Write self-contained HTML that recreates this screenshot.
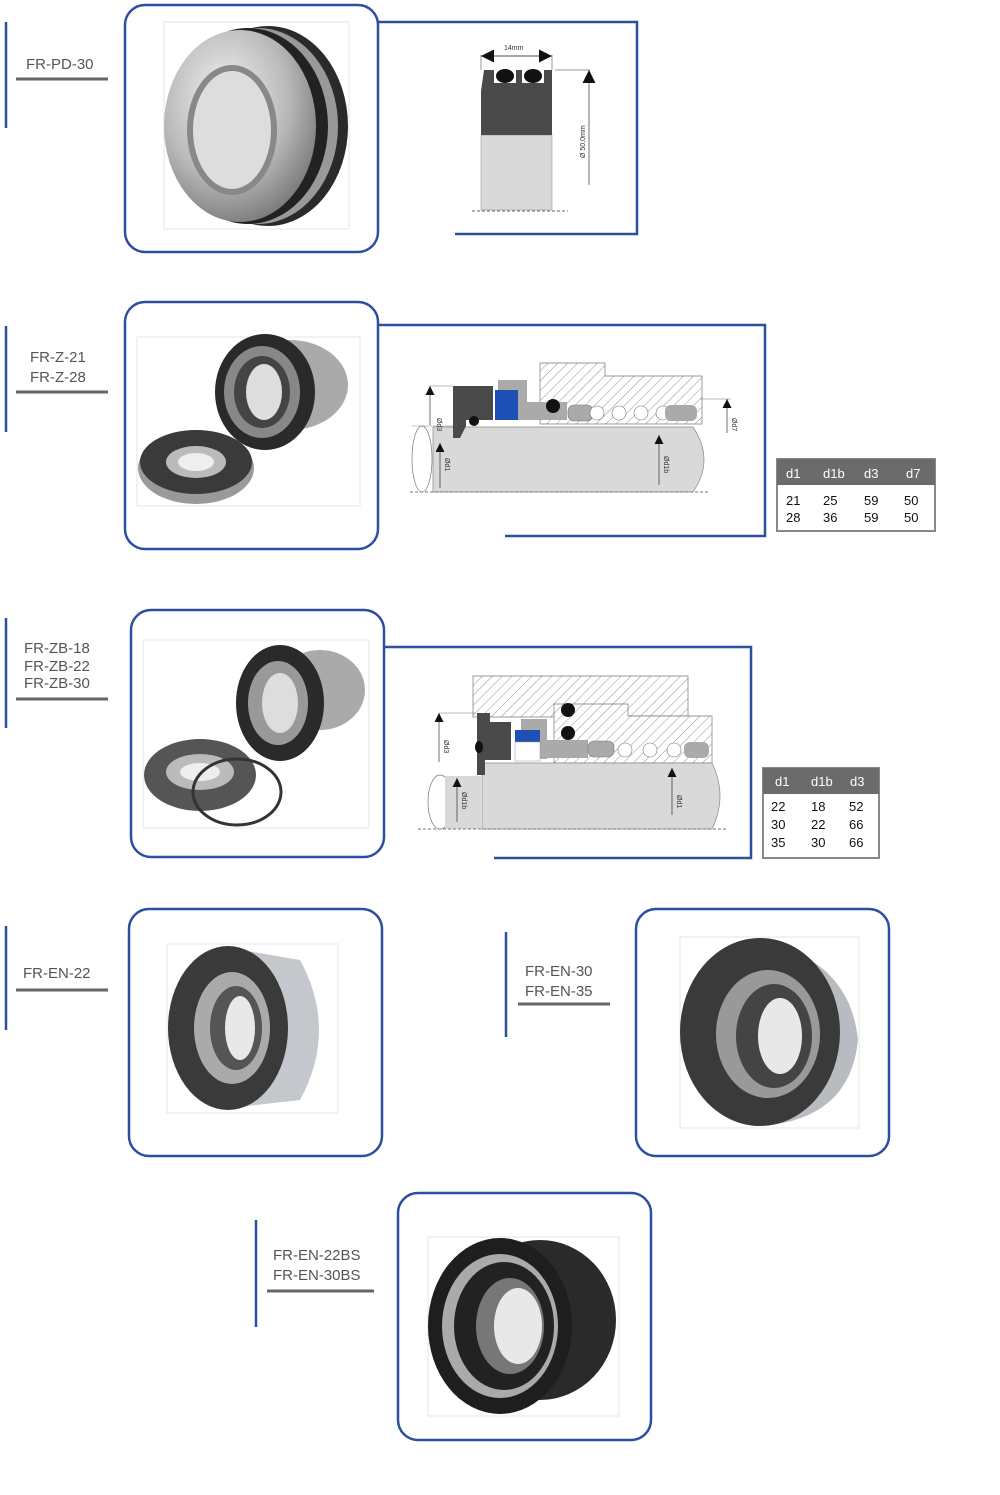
<!DOCTYPE html>
<html><head><meta charset="utf-8"><style>
html,body{margin:0;padding:0;background:#fff;}
svg{display:block;}
.lbl{font-family:"Liberation Sans",sans-serif;font-size:15px;fill:#555;}
.sm{font-family:"Liberation Sans",sans-serif;font-size:7px;fill:#333;}
.th{font-family:"Liberation Sans",sans-serif;font-size:13px;fill:#fff;}
.td{font-family:"Liberation Sans",sans-serif;font-size:13px;fill:#111;}
</style></head><body>
<svg width="1000" height="1495" viewBox="0 0 1000 1495" xmlns="http://www.w3.org/2000/svg">
<defs>
<pattern id="h" width="7" height="7" patternUnits="userSpaceOnUse" patternTransform="rotate(45)">
<rect width="7" height="7" fill="#fff"/><line x1="0" y1="0" x2="0" y2="7" stroke="#777" stroke-width="0.8"/></pattern>
<radialGradient id="met" cx="40%" cy="35%" r="70%"><stop offset="0" stop-color="#f2f2f2"/><stop offset="0.6" stop-color="#b8b8b8"/><stop offset="1" stop-color="#777"/></radialGradient>
<marker id="ar" viewBox="0 0 10 10" refX="10" refY="5" markerWidth="9" markerHeight="9" markerUnits="userSpaceOnUse" orient="auto-start-reverse"><path d="M0,0 L10,5 L0,10z" fill="#111"/></marker>
<marker id="ar2" viewBox="0 0 10 10" refX="10" refY="5" markerWidth="13" markerHeight="13" markerUnits="userSpaceOnUse" orient="auto-start-reverse"><path d="M0,0 L10,5 L0,10z" fill="#111"/></marker>
</defs>
<g fill="none" stroke="#2d4fa0" stroke-width="2.5">
<line x1="6" y1="22" x2="6" y2="128"/><line x1="6" y1="326" x2="6" y2="432"/><line x1="6" y1="618" x2="6" y2="728"/>
<line x1="6" y1="926" x2="6" y2="1030"/><line x1="506" y1="932" x2="506" y2="1037"/><line x1="256" y1="1220" x2="256" y2="1327"/>
<rect x="125" y="5" width="253" height="247" rx="20"/>
<rect x="125" y="302" width="253" height="247" rx="20"/>
<rect x="131" y="610" width="253" height="247" rx="20"/>
<rect x="129" y="909" width="253" height="247" rx="20"/>
<rect x="636" y="909" width="253" height="247" rx="20"/>
<rect x="398" y="1193" width="253" height="247" rx="20"/>
<polyline points="378,22 637,22 637,234 455,234"/>
<polyline points="378,325 765,325 765,536 505,536"/>
<polyline points="384,647 751,647 751,858 494,858"/>
</g>
<g stroke="#666" stroke-width="3">
<line x1="16" y1="79" x2="108" y2="79"/><line x1="16" y1="392" x2="108" y2="392"/><line x1="16" y1="699" x2="108" y2="699"/>
<line x1="16" y1="990" x2="108" y2="990"/><line x1="518" y1="1004" x2="610" y2="1004"/><line x1="267" y1="1291" x2="374" y2="1291"/>
</g>
<text class="lbl" x="26" y="69">FR-PD-30</text>
<text class="lbl" x="30" y="362">FR-Z-21</text><text class="lbl" x="30" y="382">FR-Z-28</text>
<text class="lbl" x="24" y="653">FR-ZB-18</text><text class="lbl" x="24" y="671">FR-ZB-22</text><text class="lbl" x="24" y="688">FR-ZB-30</text>
<text class="lbl" x="23" y="978">FR-EN-22</text>
<text class="lbl" x="525" y="976">FR-EN-30</text><text class="lbl" x="525" y="996">FR-EN-35</text>
<text class="lbl" x="273" y="1260">FR-EN-22BS</text><text class="lbl" x="273" y="1280">FR-EN-30BS</text>

<g stroke="#e4e4e4" fill="#fff"><rect x="164" y="22" width="185" height="207"/><rect x="137" y="337" width="223" height="169"/><rect x="143" y="640" width="226" height="188"/><rect x="167" y="944" width="171" height="169"/><rect x="680" y="937" width="179" height="191"/><rect x="428" y="1237" width="191" height="179"/></g>
<ellipse cx="268" cy="126" rx="80" ry="100" fill="#2a2a2a"/>
<ellipse cx="258" cy="126" rx="80" ry="98" fill="#999"/>
<ellipse cx="248" cy="126" rx="80" ry="98" fill="#222"/>
<ellipse cx="240" cy="126" rx="76" ry="96" fill="url(#met)"/>
<ellipse cx="232" cy="130" rx="42" ry="62" fill="#ddd" stroke="#888" stroke-width="6"/>
<ellipse cx="290" cy="385" rx="58" ry="45" fill="#aaa"/><ellipse cx="265" cy="392" rx="50" ry="58" fill="#2a2a2a"/><ellipse cx="262" cy="392" rx="38" ry="46" fill="#888"/><ellipse cx="262" cy="392" rx="28" ry="36" fill="#444"/><ellipse cx="264" cy="392" rx="18" ry="28" fill="#ddd"/>
<ellipse cx="196" cy="468" rx="58" ry="36" fill="#9a9a9a"/><ellipse cx="196" cy="462" rx="56" ry="32" fill="#3a3a3a"/><ellipse cx="196" cy="462" rx="30" ry="16" fill="#bbb"/><ellipse cx="196" cy="462" rx="18" ry="9" fill="#eee"/>
<ellipse cx="320" cy="690" rx="45" ry="40" fill="#aaa"/><ellipse cx="280" cy="703" rx="44" ry="58" fill="#2a2a2a"/><ellipse cx="278" cy="703" rx="30" ry="42" fill="#999"/><ellipse cx="280" cy="703" rx="18" ry="30" fill="#ddd"/>
<ellipse cx="200" cy="775" rx="56" ry="36" fill="#555"/><ellipse cx="200" cy="772" rx="34" ry="18" fill="#bbb"/><ellipse cx="200" cy="772" rx="20" ry="9" fill="#eee"/>
<ellipse cx="237" cy="792" rx="44" ry="33" fill="none" stroke="#333" stroke-width="3"/>
<path d="M230,948 L300,960 Q338,1030 300,1100 L230,1108z" fill="#c4c8cc"/>
<ellipse cx="228" cy="1028" rx="60" ry="82" fill="#3a3a3a"/><ellipse cx="232" cy="1028" rx="38" ry="56" fill="#aaa"/><ellipse cx="236" cy="1028" rx="26" ry="42" fill="#555"/><ellipse cx="240" cy="1028" rx="15" ry="32" fill="#e8e8e8"/>
<path d="M760,940 Q850,960 858,1040 Q850,1120 760,1126z" fill="#b8bcc0"/>
<ellipse cx="760" cy="1032" rx="80" ry="94" fill="#3a3a3a"/><ellipse cx="768" cy="1034" rx="52" ry="64" fill="#999"/><ellipse cx="774" cy="1036" rx="38" ry="52" fill="#444"/><ellipse cx="780" cy="1036" rx="22" ry="38" fill="#e8e8e8"/>
<ellipse cx="540" cy="1320" rx="76" ry="80" fill="#2a2a2a"/>
<ellipse cx="500" cy="1326" rx="72" ry="88" fill="#1e1e1e"/><ellipse cx="500" cy="1326" rx="58" ry="72" fill="#aaa"/><ellipse cx="504" cy="1326" rx="50" ry="64" fill="#222"/><ellipse cx="510" cy="1326" rx="34" ry="48" fill="#777"/><ellipse cx="518" cy="1326" rx="24" ry="38" fill="#e8e8e8"/>

<!-- diagram 1 -->
<rect x="481" y="135" width="71" height="75" fill="#d9d9d9" stroke="#999" stroke-width="0.6"/>
<path d="M481,91 L484,70 L552,70 L552,135 L481,135z" fill="#4a4a4a"/>
<rect x="494" y="69" width="22" height="14" fill="#fff"/><rect x="522" y="69" width="22" height="14" fill="#fff"/>
<ellipse cx="505" cy="76" rx="9" ry="7" fill="#111"/><ellipse cx="533" cy="76" rx="9" ry="7" fill="#111"/>
<line x1="472" y1="211" x2="568" y2="211" stroke="#666" stroke-dasharray="3,2"/>
<line x1="481" y1="56" x2="552" y2="56" stroke="#111" marker-start="url(#ar2)" marker-end="url(#ar2)" stroke-width="0.8"/>
<line x1="481" y1="55" x2="481" y2="70" stroke="#333" stroke-width="0.5"/><line x1="552" y1="55" x2="552" y2="70" stroke="#333" stroke-width="0.5"/>
<text class="sm" x="504" y="50">14mm</text>
<line x1="555" y1="70" x2="590" y2="70" stroke="#333" stroke-width="0.5"/>
<line x1="589" y1="185" x2="589" y2="70" stroke="#111" stroke-width="0.6" marker-end="url(#ar2)"/>
<text class="sm" transform="translate(585,158) rotate(-90)">Ø 50,0mm</text>

<!-- diagram 2 -->
<path d="M540,363 L605,363 L605,376 L702,376 L702,424 L540,424z" fill="url(#h)" stroke="#777" stroke-width="0.7"/>
<path d="M433,427 L693,427 Q715,460 693,492 L433,492z" fill="#d9d9d9" stroke="#888" stroke-width="0.7"/>
<ellipse cx="422" cy="459" rx="10" ry="33" fill="#fff" stroke="#777" stroke-width="0.7"/>
<line x1="412" y1="426" x2="460" y2="426" stroke="#888" stroke-width="0.6"/>
<path d="M453,386 L493,386 L493,420 L466,420 L466,426 L460,438 L453,438z" fill="#4a4a4a"/>
<circle cx="474" cy="421" r="5" fill="#111"/>
<path d="M498,380 L527,380 L527,402 L567,402 L567,420 L498,420z" fill="#aaa"/>
<rect x="495" y="390" width="23" height="30" fill="#1d4fb5"/>
<circle cx="553" cy="406" r="7" fill="#111"/>
<rect x="568" y="405" width="25" height="16" rx="6" fill="#aaa" stroke="#777" stroke-width="0.6"/>
<g fill="#fff" stroke="#777" stroke-width="0.6"><circle cx="597" cy="413" r="7"/><circle cx="619" cy="413" r="7"/><circle cx="641" cy="413" r="7"/><circle cx="663" cy="413" r="7"/></g>
<rect x="665" y="405" width="32" height="16" rx="6" fill="#aaa"/>
<line x1="410" y1="492" x2="710" y2="492" stroke="#777" stroke-dasharray="3,2"/>
<line x1="430" y1="386" x2="453" y2="386" stroke="#777" stroke-width="0.5"/>
<line x1="430" y1="425" x2="430" y2="386" stroke="#111" stroke-width="0.6" marker-end="url(#ar)"/>
<text class="sm" transform="translate(437,418) rotate(90)">Ød3</text>
<line x1="440" y1="488" x2="440" y2="443" stroke="#111" stroke-width="0.6" marker-end="url(#ar)"/>
<text class="sm" transform="translate(445,458) rotate(90)">Ød1</text>
<line x1="659" y1="485" x2="659" y2="435" stroke="#111" stroke-width="0.6" marker-end="url(#ar)"/>
<text class="sm" transform="translate(664,456) rotate(90)">Ød1b</text>
<line x1="700" y1="399" x2="731" y2="399" stroke="#777" stroke-width="0.5"/>
<line x1="727" y1="433" x2="727" y2="399" stroke="#111" stroke-width="0.6" marker-end="url(#ar)"/>
<text class="sm" transform="translate(732,418) rotate(90)">Ød7</text>

<rect x="777" y="459" width="158" height="72" fill="#fff" stroke="#888" stroke-width="2"/>
<rect x="777" y="459" width="158" height="26" fill="#6b6b6b"/>
<text class="th" x="786" y="478">d1</text><text class="th" x="823" y="478">d1b</text><text class="th" x="864" y="478">d3</text><text class="th" x="906" y="478">d7</text>
<text class="td" x="786" y="505">21</text><text class="td" x="823" y="505">25</text><text class="td" x="864" y="505">59</text><text class="td" x="904" y="505">50</text>
<text class="td" x="786" y="522">28</text><text class="td" x="823" y="522">36</text><text class="td" x="864" y="522">59</text><text class="td" x="904" y="522">50</text>

<!-- diagram 3 -->
<path d="M473,676 L688,676 L688,716 L628,716 L628,717 L473,717z" fill="url(#h)" stroke="#777" stroke-width="0.7"/>
<path d="M554,704 L628,704 L628,716 L712,716 L712,763 L554,763z" fill="url(#h)" stroke="#777" stroke-width="0.7"/>
<path d="M482,763 L712,763 Q728,796 712,829 L482,829z" fill="#d9d9d9" stroke="#888" stroke-width="0.7"/>
<ellipse cx="440" cy="802" rx="12" ry="27" fill="#fff" stroke="#777" stroke-width="0.7"/>
<rect x="445" y="776" width="37" height="53" fill="#d9d9d9"/>
<path d="M477,713 L490,713 L490,722 L511,722 L511,760 L485,760 L485,775 L477,775z" fill="#4a4a4a"/>
<ellipse cx="479" cy="747" rx="4" ry="6" fill="#111"/>
<rect x="521" y="719" width="26" height="40" fill="#aaa"/>
<rect x="515" y="730" width="25" height="12" fill="#1d4fb5"/>
<rect x="515" y="742" width="25" height="19" fill="#fff" stroke="#999" stroke-width="0.5"/>
<rect x="543" y="740" width="45" height="18" fill="#aaa"/>
<circle cx="568" cy="710" r="7" fill="#111"/><circle cx="568" cy="733" r="7" fill="#111"/>
<rect x="588" y="741" width="26" height="16" rx="6" fill="#aaa" stroke="#777" stroke-width="0.6"/>
<g fill="#fff" stroke="#777" stroke-width="0.6"><circle cx="625" cy="750" r="7"/><circle cx="650" cy="750" r="7"/><circle cx="674" cy="750" r="7"/></g>
<rect x="684" y="742" width="25" height="16" rx="6" fill="#aaa"/>
<line x1="418" y1="829" x2="728" y2="829" stroke="#777" stroke-dasharray="3,2"/>
<line x1="439" y1="713" x2="476" y2="713" stroke="#777" stroke-width="0.5"/>
<line x1="439" y1="762" x2="439" y2="713" stroke="#111" stroke-width="0.6" marker-end="url(#ar)"/>
<text class="sm" transform="translate(444,740) rotate(90)">Ød3</text>
<line x1="457" y1="822" x2="457" y2="778" stroke="#111" stroke-width="0.6" marker-end="url(#ar)"/>
<text class="sm" transform="translate(462,792) rotate(90)">Ød1b</text>
<line x1="672" y1="815" x2="672" y2="768" stroke="#111" stroke-width="0.6" marker-end="url(#ar)"/>
<text class="sm" transform="translate(677,795) rotate(90)">Ød1</text>

<rect x="763" y="768" width="116" height="90" fill="#fff" stroke="#888" stroke-width="2"/>
<rect x="763" y="768" width="116" height="26" fill="#6b6b6b"/>
<text class="th" x="775" y="786">d1</text><text class="th" x="811" y="786">d1b</text><text class="th" x="850" y="786">d3</text>
<text class="td" x="771" y="811">22</text><text class="td" x="811" y="811">18</text><text class="td" x="849" y="811">52</text>
<text class="td" x="771" y="829">30</text><text class="td" x="811" y="829">22</text><text class="td" x="849" y="829">66</text>
<text class="td" x="771" y="847">35</text><text class="td" x="811" y="847">30</text><text class="td" x="849" y="847">66</text>
</svg>
</body></html>
